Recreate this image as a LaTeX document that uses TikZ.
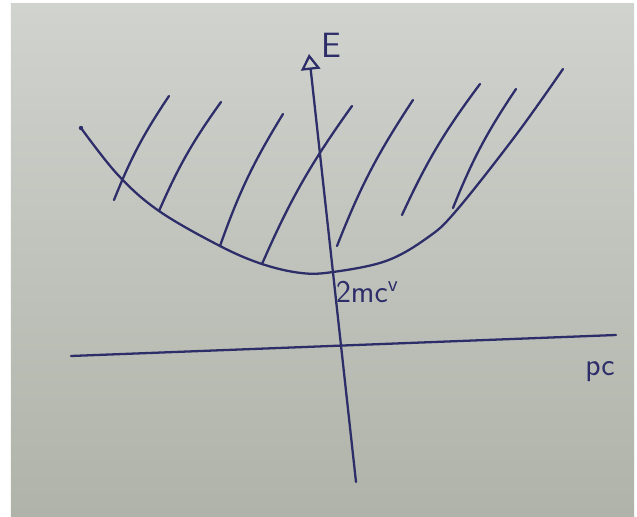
\documentclass[tikz,border=0pt]{standalone}
\usetikzlibrary{arrows.meta}
\definecolor{ink}{RGB}{45,45,105}
\definecolor{paperTop}{RGB}{208,211,206}
\definecolor{paperBot}{RGB}{176,179,169}

\begin{document}
\begin{tikzpicture}[x=0.02cm, y=-0.02cm, >=Stealth,
    pen/.style={draw=ink, line width=1.3pt, line cap=round},
    hatch/.style={pen},
    axislabel/.style={text=ink, font=\sffamily\fontsize{18}{20}\selectfont, inner sep=1pt}]
    \useasboundingbox (0,0) rectangle (637,517);
    \fill[white] (0,0) rectangle (637,517);
    \shade[top color=paperTop, bottom color=paperBot] (11,4) rectangle (634,517);

    \coordinate (eBot) at (356,482);
    \coordinate (eTop) at (309,54);
    \coordinate (pLeft) at (71,356);
    \coordinate (pRight) at (616,335);
    \draw[pen, -{Triangle[open, length=9pt, width=11pt]}] (eBot) -- (eTop);
    \draw[pen] (pLeft) -- (pRight);

    \node[axislabel, font=\sffamily\fontsize{20}{22}\selectfont] (eLabel) at (331,45) {E};
    \node[axislabel] (pcLabel) at (600,372) {pc};
    \node[axislabel, anchor=west] (restLabel) at (334,292) {2mc\textsuperscript{v}};

    \draw[pen] plot[smooth, tension=0.6] coordinates {(81,128) (118,175) (159,211)
      (220,246) (262,264) (301,273) (333,272) (386,261) (427,238) (456,211)
      (516,135) (563,69)};
    \fill[ink] (81,128) circle (2.2);

    \foreach \xa/\ya/\xb/\yb in {114/200/169/96, 159/211/221/102, 220/246/283/114,
        262/264/352/106, 337/246/413/100, 402/215/480/84, 453/208/516/89}
      \draw[hatch] (\xa,\ya) to[bend left=6] (\xb,\yb);
\end{tikzpicture}
\end{document}
